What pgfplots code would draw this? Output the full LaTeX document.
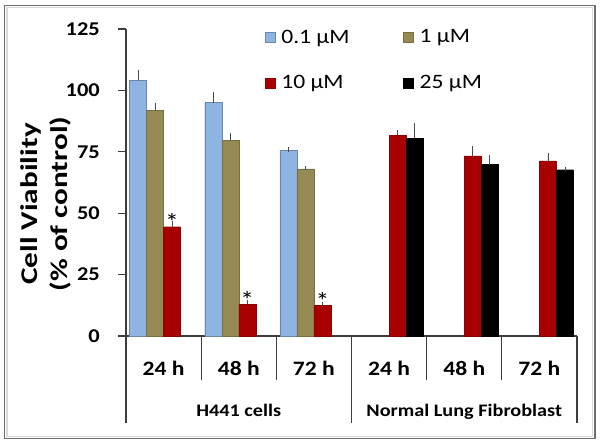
\documentclass[border=0pt]{standalone}
\usepackage{fontspec}
\setmainfont{Carlito}[FakeStretch=1.15]
\newfontfamily\ylabfont{Carlito}[FakeStretch=1.3]
\usepackage{pgfplots}
\pgfplotsset{compat=1.18}
\usepackage{pgfplotstable}
\definecolor{cblue}{RGB}{142,180,227}
\definecolor{colive}{RGB}{150,138,84}
\definecolor{cred}{RGB}{168,0,0}
\definecolor{cframe}{RGB}{110,110,110}
\definecolor{caxis}{RGB}{60,60,60}

\pgfplotstableread{
x y e
0 104.2 3.4
1 95.0 3.6
2 75.7 0.3
}\blue
\pgfplotstableread{
x y e
0 92.0 1.8
1 79.7 2.2
2 68.0 0.3
}\olive
\pgfplotstableread{
x y e s
0 44.5 1.6 *
1 12.9 0.9 *
2 12.5 0.6 *
3 81.7 1.3 {}
4 73.3 3.1 {}
5 71.3 2.5 {}
}\red
\pgfplotstableread{
x y e
3 80.6 5.3
4 69.8 2.8
5 67.7 0.3
}\black

\newcommand{\ytickfont}{\fontsize{19.5bp}{22bp}\selectfont\bfseries}
\newcommand{\xtickfont}{\fontsize{20.5bp}{22bp}\selectfont\bfseries}
\newcommand{\grpfont}{\fontsize{17.6bp}{22bp}\selectfont\bfseries}
\newcommand{\legfont}{\fontsize{20.5bp}{22bp}\selectfont}

\begin{document}
\begin{tikzpicture}
\useasboundingbox (0,0) rectangle (601bp,444bp);
\fill[white] (0,0) rectangle (601bp,444bp);
\draw[black!15, line width=1.2bp] (7bp,7.5bp) rectangle (592.5bp,436.5bp);
\draw[cframe, line width=1.6bp] (4.5bp,5.5bp) rectangle (595bp,438.5bp);
\begin{axis}[
  at={(126bp,108bp)}, anchor=south west,
  scale only axis, width=451bp, height=307bp,
  xmin=-0.5, xmax=5.5, ymin=0, ymax=125,
  axis lines*=left,
  axis line style={caxis, line width=1.1bp},
  ybar=0pt, bar width=17bp,
  ytick={0,25,...,125},
  tick align=outside,
  major tick length=8bp,
  ytick style={caxis, line width=1.1bp},
  xtick style={draw=none},
  xtick={0,...,5},
  xticklabels={24 h,48 h,72 h,24 h,48 h,72 h},
  /pgf/number format/assume math mode=true,
  yticklabel style={font=\ytickfont, anchor=east, inner sep=0pt, xshift=-18bp},
  xticklabel style={font=\xtickfont, anchor=base, inner sep=0pt, yshift=-31bp},
  clip=false,
  legend columns=2,
  legend cell align=left,
  legend style={draw=none, fill=none, inner sep=0pt, outer sep=0pt,
    at={(axis description cs:0.308,0.899)}, anchor=west,
    font=\legfont, row sep=27bp},
  legend image code/.code={\draw[#1, line width=0.4bp] (0bp,-5bp) rectangle (10bp,5bp); \path (14bp,0bp);},
  error bars/y dir=plus, error bars/y explicit,
  error bars/error bar style={black!70, line width=0.8bp},
  error bars/error mark options={black!70, line width=0.8bp, mark size=2.2bp},
]
\addplot[fill=cblue, draw=cblue!75!black, line width=0.4bp] table[x=x, y=y, y error=e] {\blue};
\addplot[fill=colive, draw=colive!80!black, line width=0.4bp] table[x=x, y=y, y error=e] {\olive};
\addplot[fill=cred, draw=cred!85!black, line width=0.4bp,
  nodes near coords, point meta=explicit symbolic,
  every node near coord/.append style={font=\fontsize{24bp}{26bp}\selectfont, anchor=base, inner sep=0pt, yshift=-4bp, black}]
  table[x=x, y=y, y error=e, meta=s] {\red};
\addplot[fill=black, draw=black, line width=0.4bp] table[x=x, y=y, y error=e] {\black};
\legend{\makebox[120bp][l]{0.1 µM}, 1 µM, \makebox[120bp][l]{10 µM}, 25 µM}
% separators under the axis
\draw[caxis, line width=1.1bp] (axis cs:0.5,0) -- ([yshift=-44bp]axis cs:0.5,0);
\draw[caxis, line width=1.1bp] (axis cs:1.5,0) -- ([yshift=-44bp]axis cs:1.5,0);
\draw[caxis, line width=1.1bp] (axis cs:3.5,0) -- ([yshift=-44bp]axis cs:3.5,0);
\draw[caxis, line width=1.1bp] (axis cs:4.5,0) -- ([yshift=-44bp]axis cs:4.5,0);
\draw[caxis, line width=1.1bp] (axis cs:-0.5,0) -- ([yshift=-87bp]axis cs:-0.5,0);
\draw[caxis, line width=1.1bp] (axis cs:2.5,0) -- ([yshift=-87bp]axis cs:2.5,0);
\draw[caxis, line width=1.1bp] (axis cs:5.5,0) -- ([yshift=-87bp]axis cs:5.5,0);
\node[font=\grpfont, anchor=base] at ([yshift=-80bp]axis cs:1,0) {H441 cells};
\node[font=\grpfont, anchor=base] at ([yshift=-80bp]axis cs:4,0) {Normal Lung Fibroblast};
\end{axis}
\node[rotate=90, align=center, font=\ylabfont\fontsize{24bp}{30.5bp}\selectfont\bfseries] at (46bp,240bp) {Cell Viability\\(\% of control)};
\end{tikzpicture}
\end{document}
